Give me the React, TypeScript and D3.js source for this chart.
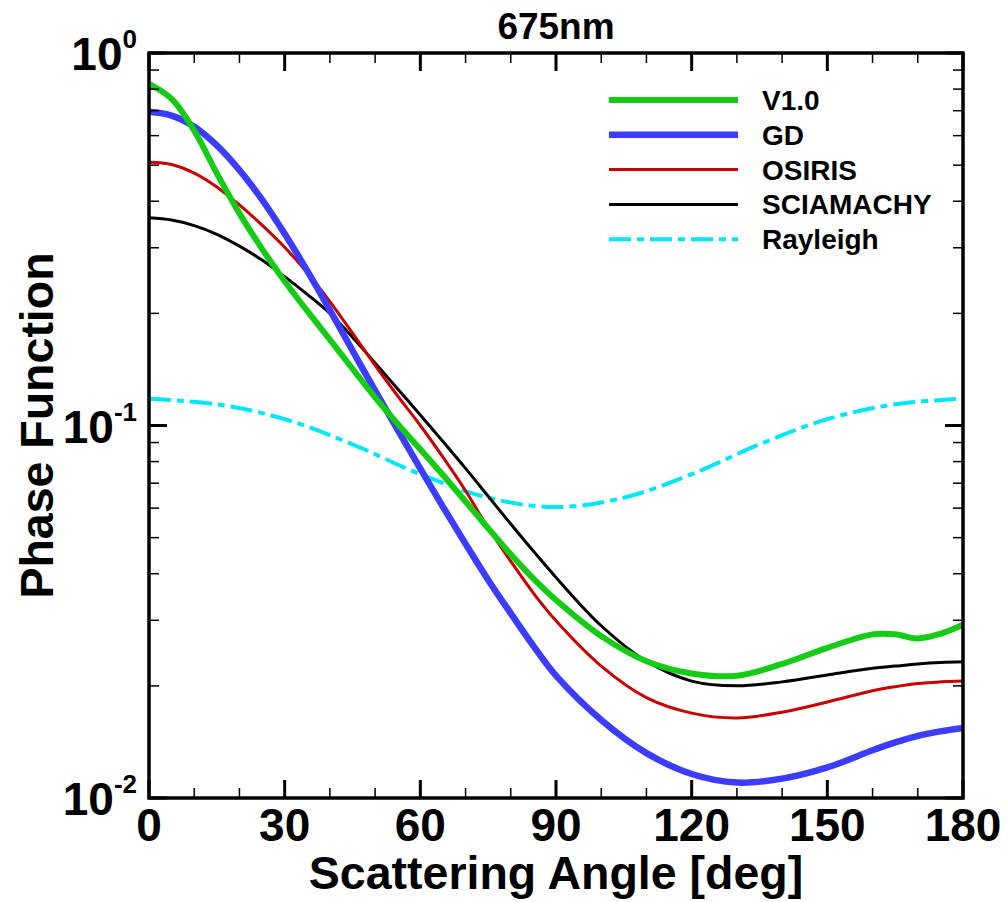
import React from "react";
import * as d3 from "d3";

const angles = [0, 5, 10, 15, 20, 25, 30, 35, 40, 45, 50, 55, 60, 65, 70, 75, 80, 85, 90, 100, 110, 120, 130, 140, 150, 160, 165, 170, 175, 180];

const v10 = [0.826, 0.753, 0.619, 0.475, 0.371, 0.298, 0.244, 0.203, 0.17, 0.142, 0.119, 0.101, 0.0863, 0.0736, 0.0625, 0.053, 0.0451, 0.0388, 0.034, 0.0272, 0.0233, 0.0216, 0.0213, 0.0229, 0.0253, 0.0275, 0.0275, 0.0268, 0.0276, 0.0292];
const gd = [0.695, 0.679, 0.634, 0.565, 0.485, 0.404, 0.327, 0.26, 0.204, 0.159, 0.124, 0.0973, 0.0766, 0.0605, 0.0481, 0.0385, 0.0313, 0.0256, 0.0213, 0.0162, 0.0132, 0.0116, 0.011, 0.01127, 0.01208, 0.01343, 0.0141, 0.01469, 0.0151, 0.01542];
const osiris = [0.509, 0.502, 0.476, 0.437, 0.391, 0.345, 0.301, 0.257, 0.215, 0.177, 0.145, 0.12, 0.1, 0.0822, 0.0668, 0.0531, 0.0432, 0.0355, 0.0299, 0.0226, 0.0186, 0.0169, 0.0164, 0.017, 0.0181, 0.0194, 0.0199, 0.0203, 0.0205, 0.0206];
const sciamachy = [0.361, 0.356, 0.344, 0.326, 0.303, 0.278, 0.251, 0.225, 0.2, 0.1726, 0.1472, 0.1253, 0.1067, 0.0906, 0.0767, 0.0646, 0.0544, 0.046, 0.0391, 0.029, 0.0233, 0.0206, 0.02, 0.0205, 0.0214, 0.0223, 0.0226, 0.0229, 0.0231, 0.0232];

const rayAngles = [0, 15, 30, 45, 60, 75, 90, 105, 120, 135, 150, 165, 180];
const rayleigh = [0.118, 0.114, 0.104, 0.089, 0.074, 0.064, 0.0604, 0.064, 0.074, 0.089, 0.104, 0.114, 0.118];

const xTickLabels = [0, 30, 60, 90, 120, 150, 180];
const yDecades = [-2, -1, 0];

const series = [
  { name: "V1.0", x: angles, y: v10, color: "#14cc14", width: 6, dash: "" },
  { name: "GD", x: angles, y: gd, color: "#3c3cff", width: 6.5, dash: "" },
  { name: "OSIRIS", x: angles, y: osiris, color: "#cc0000", width: 3, dash: "" },
  { name: "SCIAMACHY", x: angles, y: sciamachy, color: "#000000", width: 3, dash: "" },
  { name: "Rayleigh", x: rayAngles, y: rayleigh, color: "#00e8f8", width: 4, dash: "22,6,7,6" },
];

const FONT = "'Liberation Sans', Arial, Helvetica, sans-serif";

export default function App() {
  const W = 1008, H = 902;
  const L = 149, R = 963, T = 53, B = 798;
  const x = d3.scaleLinear().domain([0, 180]).range([L, R]);
  const y = d3.scaleLog().domain([0.01, 1]).range([B, T]);

  const drawOrder = [4, 3, 2, 1, 0];

  const xMinor = d3.range(0, 181, 10).filter((d) => d % 30 !== 0);
  const yMinor: number[] = [];
  for (const e of [-2, -1]) for (let k = 2; k <= 9; k++) yMinor.push(k * Math.pow(10, e));

  const legendY0 = 100, legendDy = 34.8;

  return (
    <svg width={W} height={H} style={{ position: "absolute", left: 0, top: 0, background: "#fff" }} fontFamily={FONT}>
      <defs>
        <clipPath id="plotclip">
          <rect x={L} y={T} width={R - L} height={B - T} />
        </clipPath>
      </defs>
      <g clipPath="url(#plotclip)">
        {drawOrder.map((i) => {
          const s = series[i];
          const pts = s.x.map((a, j) => [a, s.y[j]] as [number, number]);
          const line = d3
            .line<[number, number]>()
            .x((d) => x(d[0]))
            .y((d) => y(d[1]))
            .curve(d3.curveCatmullRom.alpha(0.5));
          return (
            <path key={s.name} d={line(pts) || ""} fill="none" stroke={s.color} strokeWidth={s.width} strokeDasharray={s.dash || undefined} strokeLinejoin="round" />
          );
        })}
      </g>
      <g stroke="#000">
        {xTickLabels.map((d) => (
          <g key={"xt" + d}>
            <line x1={x(d)} x2={x(d)} y1={B} y2={B - 18} strokeWidth={3} />
            <line x1={x(d)} x2={x(d)} y1={T} y2={T + 18} strokeWidth={3} />
          </g>
        ))}
        {xMinor.map((d) => (
          <g key={"xm" + d}>
            <line x1={x(d)} x2={x(d)} y1={B} y2={B - 10} strokeWidth={1.5} />
            <line x1={x(d)} x2={x(d)} y1={T} y2={T + 10} strokeWidth={1.5} />
          </g>
        ))}
        {yDecades.map((e) => (
          <g key={"yt" + e}>
            <line x1={L} x2={L + 18} y1={y(Math.pow(10, e))} y2={y(Math.pow(10, e))} strokeWidth={3} />
            <line x1={R} x2={R - 18} y1={y(Math.pow(10, e))} y2={y(Math.pow(10, e))} strokeWidth={3} />
          </g>
        ))}
        {yMinor.map((v) => (
          <g key={"ym" + v}>
            <line x1={L} x2={L + 10} y1={y(v)} y2={y(v)} strokeWidth={1.5} />
            <line x1={R} x2={R - 10} y1={y(v)} y2={y(v)} strokeWidth={1.5} />
          </g>
        ))}
      </g>
      <rect x={L} y={T} width={R - L} height={B - T} fill="none" stroke="#000" strokeWidth={3.5} />
      {xTickLabels.map((d) => (
        <text key={"xl" + d} x={x(d)} y={841} textAnchor="middle" fontSize={46} fontWeight="bold">
          {d}
        </text>
      ))}
      {yDecades.map((e) => (
        <text key={"yl" + e} x={137} y={y(Math.pow(10, e)) + 17} textAnchor="end" fontSize={46} fontWeight="bold">
          10
          <tspan fontSize={26} dy={-22}>{String(e)}</tspan>
        </text>
      ))}
      <text x={(L + R) / 2} y={39} textAnchor="middle" fontSize={37} fontWeight="bold">
        675nm
      </text>
      <text x={(L + R) / 2} y={889} textAnchor="middle" fontSize={46.5} fontWeight="bold">
        Scattering Angle [deg]
      </text>
      <text transform={`translate(53, ${(T + B) / 2}) rotate(-90)`} textAnchor="middle" fontSize={46.5} fontWeight="bold">
        Phase Function
      </text>
      {series.map((s, i) => (
        <g key={"lg" + s.name}>
          <line x1={609} x2={738} y1={legendY0 + i * legendDy} y2={legendY0 + i * legendDy} stroke={s.color} strokeWidth={s.width} strokeDasharray={s.dash || undefined} />
          <text x={762} y={legendY0 + i * legendDy + 10} fontSize={28} fontWeight="bold">
            {s.name}
          </text>
        </g>
      ))}
    </svg>
  );
}
